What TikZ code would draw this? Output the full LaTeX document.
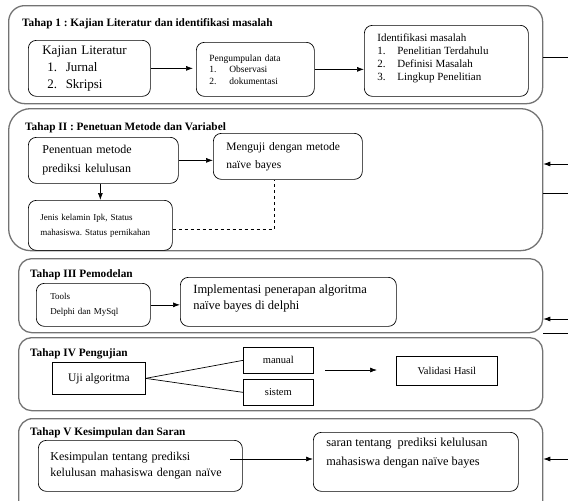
\documentclass[tikz,border=0pt]{standalone}
\usepackage{fontspec}
\setmainfont{Liberation Serif}
\usetikzlibrary{arrows.meta}
\frenchspacing
\tikzset{
	stage/.style={draw=black!55, line width=1.3pt, anchor=north west},
	stepbox/.style={draw, line width=0.7pt, rounded corners=8pt, anchor=north west, align=left, inner ysep=0pt},
	plainbox/.style={draw, line width=0.7pt, anchor=north west, align=center, inner sep=0pt},
	title/.style={anchor=west, inner sep=0pt, font=\bfseries\fontsize{11.3}{13}\selectfont},
	flow/.style={line width=0.7pt, -{Latex[length=7pt,width=5pt]}},
}
\newcommand{\numitem}[2]{\makebox[20pt][l]{#1}#2}

\begin{document}
\begin{tikzpicture}[x=1pt, y=-1pt]
		%%%%% START %%%%%
		\useasboundingbox (0, 0) rectangle (568, 501);
		\clip (0, 0) rectangle (568, 501);
		
		% stage boxes
		\node[stage, rounded corners=16pt, minimum width=534pt, minimum height=98pt] (s1) at (8, 5) {};
		\node[stage, rounded corners=22pt, minimum width=534pt, minimum height=142pt] (s2) at (8, 108) {};
		\node[stage, rounded corners=13pt, minimum width=524pt, minimum height=74pt] (s3) at (18, 258) {};
		\node[stage, rounded corners=13pt, minimum width=524pt, minimum height=73pt] (s4) at (18, 337) {};
		\node[stage, rounded corners=14pt, minimum width=524pt, minimum height=100pt] (s5) at (18, 418) {};
		
		% Tahap 1
		\node[title] (t1) at (22, 24) {Tahap 1 : Kajian Literatur dan identifikasi masalah};
		\node[stepbox, inner xsep=14pt, text width=94pt, minimum height=56pt, font=\fontsize{13}{17}\selectfont] (lit) at (28, 40)
			{Kajian Literatur\\ \hspace*{5pt}1.\ \ Jurnal\\ \hspace*{5pt}2.\ \ Skripsi};
		\node[stepbox, inner xsep=13pt, text width=92pt, minimum height=54pt, font=\fontsize{9.5}{11.5}\selectfont] (kumpul) at (196, 42)
			{Pengumpulan data\\ \numitem{1.}{Observasi}\\ \numitem{2.}{dokumentasi}};
		\node[stepbox, inner xsep=13pt, inner ysep=8pt, minimum height=71pt, font=\fontsize{11}{13.2}\selectfont] (ident) at (364, 25)
			{\parbox[c][55pt][t]{138pt}{Identifikasi masalah\\ \numitem{1.}{Penelitian Terdahulu}\\ \numitem{2.}{Definisi Masalah}\\ \numitem{3.}{Lingkup Penelitian}}};
		\draw[flow] (lit.east) -- ([xshift=-3pt]lit.east -| kumpul.west);
		\draw[flow] (kumpul.east) -- (ident.west |- kumpul.east);
		\coordinate (r1) at (568, 57);
		\draw[line width=0.7pt] (s1.east |- r1) -- (r1);
		
		% Tahap II
		\node[title] (t2) at (25, 128) {Tahap II : Penetuan Metode dan Variabel};
		\node[stepbox, inner xsep=14pt, text width=122pt, minimum height=46pt, font=\fontsize{12}{19}\selectfont] (metode) at (28, 137)
			{Penentuan metode\\ prediksi kelulusan};
		\node[stepbox, inner xsep=13pt, text width=123pt, minimum height=46pt, font=\fontsize{11.5}{18}\selectfont] (uji) at (213, 133)
			{Menguji dengan metode\\ naïve bayes};
		\node[stepbox, inner xsep=12pt, text width=120pt, minimum height=50pt, font=\fontsize{9}{15}\selectfont] (jenis) at (28, 200)
			{Jenis kelamin Ipk, Status\\ mahasiswa. Status pernikahan};
		\draw[flow] (metode.east) -- (uji.west |- metode.east);
		\draw[flow] (jenis.north |- metode.south) -- (jenis.north);
		\draw[line width=0.7pt, dashed] ([yshift=-4pt]jenis.east) -| ([xshift=-14pt]uji.south);
		\coordinate (r2) at (568, 164);
		\coordinate (r3) at (568, 193);
		\draw[flow] (r2) -- (s2.east |- r2);
		\draw[line width=0.7pt] (s2.east |- r3) -- (r3);
		
		% Tahap III
		\node[title] (t3) at (30, 275) {Tahap III Pemodelan};
		\node[stepbox, inner xsep=14pt, text width=86pt, minimum height=43pt, font=\fontsize{9}{15}\selectfont] (tools) at (36, 283)
			{Tools\\ Delphi dan MySql};
		\node[stepbox, inner xsep=13pt, inner ysep=7pt, minimum height=49pt, font=\fontsize{12.5}{16}\selectfont] (impl) at (180, 277)
			{\parbox[c][35pt][t]{190pt}{Implementasi penerapan algoritma\\ naïve bayes di delphi}};
		\draw[flow] (tools.east) -- (impl.west |- tools.east);
		\coordinate (r4) at (568, 319);
		\coordinate (r5) at (568, 333);
		\draw[flow] (r4) -- (s3.east |- r4);
		\draw[line width=0.7pt] (s3.east |- r5) -- (r5);
		
		% Tahap IV
		\node[title] (t4) at (30, 354) {Tahap IV Pengujian};
		\node[plainbox, minimum width=93pt, minimum height=32pt, font=\fontsize{11.5}{14}\selectfont] (ujialg) at (52, 362) {Uji algoritma};
		\node[plainbox, minimum width=70pt, minimum height=26pt, font=\fontsize{10.5}{12}\selectfont] (manual) at (243, 347) {manual};
		\node[plainbox, minimum width=70pt, minimum height=26pt, font=\fontsize{10.5}{12}\selectfont] (sistem) at (243, 379) {sistem};
		\node[plainbox, minimum width=101pt, minimum height=29pt, font=\fontsize{10.5}{13}\selectfont] (valid) at (396, 356) {Validasi Hasil};
		\draw[line width=0.7pt] (ujialg.east) -- (manual.west);
		\draw[line width=0.7pt] (ujialg.east) -- (sistem.west);
		\coordinate (a4) at (325, 370);
		\coordinate (b4) at (377, 370);
		\draw[flow] (a4) -- (b4);
		
		% Tahap V
		\node[title] (t5) at (30, 433) {Tahap V Kesimpulan dan Saran};
		\node[stepbox, inner xsep=12pt, text width=180pt, minimum height=51pt, font=\fontsize{12}{16}\selectfont] (kesim) at (38, 440)
			{Kesimpulan tentang prediksi\\ kelulusan mahasiswa dengan naïve};
		\node[stepbox, inner xsep=13pt, inner ysep=6pt, minimum height=59pt, font=\fontsize{12.3}{19}\selectfont] (saran) at (313, 432)
			{\parbox[c][47pt][t]{179pt}{saran tentang\ \ prediksi kelulusan\\ mahasiswa dengan naïve bayes}};
		\coordinate (a5) at (230, 459);
		\draw[flow] (a5) -- (saran.west |- a5);
		\coordinate (r6) at (568, 459);
		\draw[flow] (r6) -- (s5.east |- r6);
		
		%%%%% END %%%%%
	\end{tikzpicture}
\end{document}
